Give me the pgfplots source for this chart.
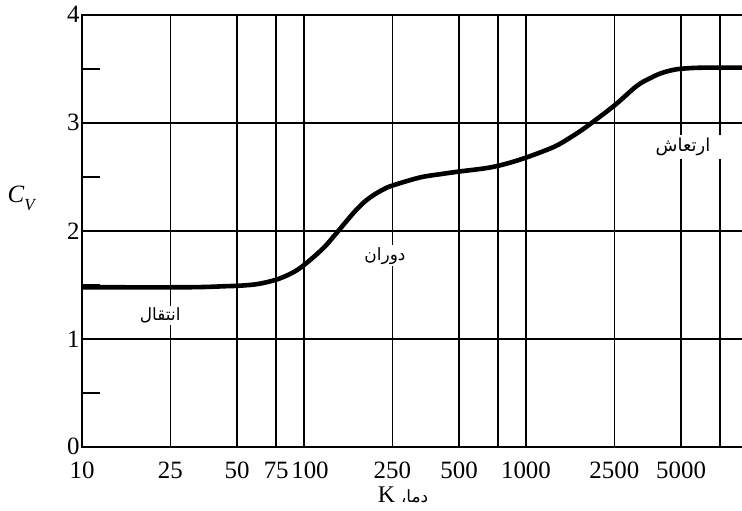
\documentclass[border=0pt]{standalone}
\usepackage{pgfplots}
\pgfplotsset{compat=1.18}
\usepackage{fontspec}
\setmainfont{Liberation Serif}
\newfontfamily\arabicfont[Script=Arabic]{DejaVu Sans}
\TeXXeTstate=1
\begin{document}
\begin{tikzpicture}
\begin{axis}[
  at={(0,0)}, anchor=south west,
  scale only axis, width=662bp, height=432.6bp,
  xmode=log, xmin=10, xmax=9600, ymin=0, ymax=4,
  xtick={10,25,50,75,100,250,500,750,1000,2500,5000,7500},
  xticklabels={10,25,50,{75\hspace{5bp}},{\hspace{12bp}100},250,500,,1000,2500,5000,},
  ytick={0,1,2,3,4},
  yticklabels={\raisebox{3bp}{0},1,2,3,4},
  minor ytick={0.5,1.5,2.5,3.5},
  ytick pos=left, xtick pos=bottom,
  grid=major,
  major grid style={black, line width=1.5pt},
  axis line style={line width=1.8pt},
  tick style={black, line width=1.5pt},
  major tick length=0pt, minor tick length=18bp,
  tick align=inside,
  tick label style={font=\fontsize{25}{28}\selectfont},
  xticklabel style={yshift=-11bp},
  yticklabel style={xshift=1bp},
  clip=true,
]
\addplot[black, line width=4.6bp, smooth, tension=0.55] coordinates {
(10,1.48) (30,1.48) (45,1.49) (52,1.495) (62,1.51) (75,1.55) (88,1.61)
(100,1.685) (122,1.84) (140,1.98) (166,2.16) (185,2.26) (205,2.33) (228,2.385) (250,2.42)
(333,2.495) (410,2.525) (500,2.55) (700,2.59) (940,2.66) (1327,2.775) (1600,2.87)
(1876,2.965) (2500,3.16) (3150,3.34) (3600,3.41) (4015,3.455) (4500,3.485) (5000,3.50)
(6200,3.51) (9600,3.51)};
\node[fill=white, inner sep=2bp, font=\arabicfont\fontsize{17}{20}\selectfont] at (axis cs:22.5,1.22) {\beginR انتقال\endR};
\node[fill=white, inner sep=2bp, font=\arabicfont\fontsize{17}{20}\selectfont] at (axis cs:231.6,1.77) {\beginR دوران\endR};
\node[fill=white, inner xsep=16bp, inner ysep=3bp, font=\arabicfont\fontsize{18}{20}\selectfont] at (axis cs:5096,2.78) {\beginR ارتعاش\endR};
\end{axis}
\node at (-60bp,249bp) {\fontsize{25}{26}\selectfont\textit{C}\raisebox{-0.35em}{\fontsize{17}{17}\selectfont\textit{V}}};
\node at (321bp,-47.7bp) {\fontsize{24}{26}\selectfont K {\arabicfont\fontsize{17}{20}\selectfont\beginR دما،\endR}};
\pgfresetboundingbox
\useasboundingbox (-82bp,-63.7bp) rectangle (660bp,447.3bp);
\end{tikzpicture}
\end{document}
